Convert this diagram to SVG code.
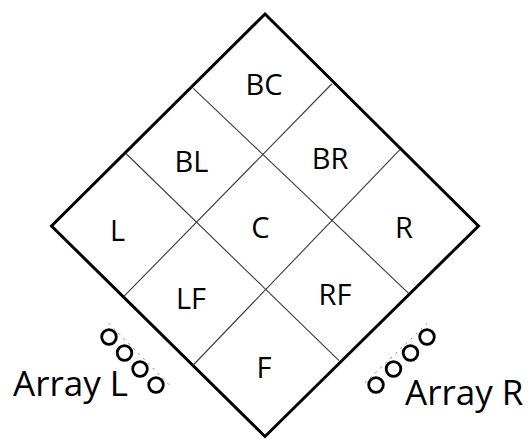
<svg xmlns="http://www.w3.org/2000/svg" width="528" height="439" viewBox="0 0 528 439">
  <style>
    .outline { fill: none; stroke: #000; stroke-width: 3; stroke-linejoin: miter; }
    .grid { fill: none; stroke: #3a3a3a; stroke-width: 1.1; }
    .lbl { font-family: "Open Sans", "Liberation Sans", sans-serif; font-size: 29px; fill: #000; text-anchor: middle; }
    .arr { font-family: "Open Sans", "Liberation Sans", sans-serif; font-size: 35px; fill: #000; }
    .mic { fill: none; stroke: #000; stroke-width: 2.8; }
    .rail { fill: none; stroke: #777; stroke-width: 1; stroke-dasharray: 2 5; }
  </style>

  <!-- room outline -->
  <g id="room">
    <polygon class="outline" points="265,14 478.5,226 265,436.5 51.5,226"/>
  </g>

  <!-- zone dividers -->
  <g id="connectors">
    <line class="grid" x1="193.3" y1="88.3" x2="408.6" y2="293.3"/>
    <line class="grid" x1="125.4" y1="153" x2="339" y2="360.7"/>
    <line class="grid" x1="331.7" y1="84" x2="123.9" y2="296.4"/>
    <line class="grid" x1="400.6" y1="148.9" x2="193.3" y2="365"/>
  </g>

  <!-- zone labels -->
  <g id="zone-BC"><text class="lbl" x="264" y="95">BC</text></g>
  <g id="zone-BL"><text class="lbl" x="191.5" y="171.5">BL</text></g>
  <g id="zone-BR"><text class="lbl" x="330" y="169">BR</text></g>
  <g id="zone-L"><text class="lbl" x="117.5" y="240.5">L</text></g>
  <g id="zone-C"><text class="lbl" x="260.5" y="237.5">C</text></g>
  <g id="zone-R"><text class="lbl" x="404" y="237.5">R</text></g>
  <g id="zone-LF"><text class="lbl" x="191" y="309">LF</text></g>
  <g id="zone-RF"><text class="lbl" x="335" y="305">RF</text></g>
  <g id="zone-F"><text class="lbl" x="264" y="378">F</text></g>

  <!-- left microphone array -->
  <g id="array-L">
    <line class="rail" x1="108.7" y1="323.3" x2="169.7" y2="385.3"/>
    <circle class="mic" cx="109" cy="337" r="7.3"/>
    <circle class="mic" cx="124.5" cy="353" r="7.3"/>
    <circle class="mic" cx="140" cy="369" r="7.3"/>
    <circle class="mic" cx="156" cy="385" r="7.3"/>
    <text class="arr" x="13" y="396">Array L</text>
  </g>

  <!-- right microphone array -->
  <g id="array-R">
    <line class="rail" x1="427.3" y1="323.3" x2="362.3" y2="385.3"/>
    <circle class="mic" cx="427" cy="337" r="7.3"/>
    <circle class="mic" cx="410.5" cy="353" r="7.3"/>
    <circle class="mic" cx="393.5" cy="369" r="7.3"/>
    <circle class="mic" cx="376" cy="385" r="7.3"/>
    <text class="arr" x="405" y="405">Array R</text>
  </g>
</svg>
